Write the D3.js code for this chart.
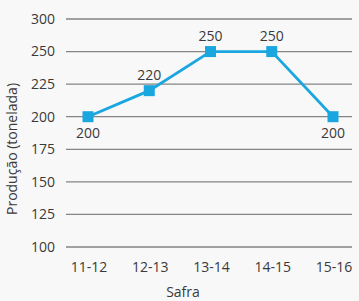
<!DOCTYPE html>
<html>
<head>
<meta charset="utf-8">
<script src="https://cdn.jsdelivr.net/npm/d3@7"></script>
<style>
  html, body { margin: 0; padding: 0; background: #f8f8f8; }
  svg { display: block; font-family: "Open Sans", sans-serif; }
</style>
</head>
<body>
<svg id="chart" width="359" height="301"></svg>
<script>
const categories = ['11-12', '12-13', '13-14', '14-15', '15-16'];
const values = [200, 220, 250, 250, 200];
// the source axis skips 275: its top line is labelled 300
const tickValues = [100, 125, 150, 175, 200, 225, 250, 275];
const tickLabels = ['100', '125', '150', '175', '200', '225', '250', '300'];
const labelBelow = [true, false, false, false, true];

const svg = d3.select('#chart');
const width = 359, height = 301;

const x = d3.scalePoint().domain(categories).range([88, 333]);
const y = d3.scaleLinear().domain([100, 275]).range([247, 19]);

const gridLeft = 66, gridRight = 352;
const textColor = '#3a3a3a';

// clip for right edge (source is cut off there)
svg.append('defs').append('clipPath').attr('id', 'clip')
  .append('rect').attr('x', 0).attr('y', 0).attr('width', gridRight).attr('height', height);

const g = svg.append('g').attr('clip-path', 'url(#clip)');

// gridlines
g.selectAll('.grid')
  .data(tickValues)
  .enter()
  .append('line')
  .attr('x1', gridLeft).attr('x2', gridRight)
  .attr('y1', d => y(d)).attr('y2', d => y(d))
  .attr('stroke', '#858585')
  .attr('stroke-width', 1.3);

// y tick labels
g.selectAll('.ytick')
  .data(tickValues)
  .enter()
  .append('text')
  .attr('x', 55)
  .attr('y', d => y(d))
  .attr('dy', '0.35em')
  .attr('text-anchor', 'end')
  .attr('font-size', 14)
  .attr('fill', textColor)
  .text((d, i) => tickLabels[i]);

// x tick labels
g.selectAll('.xtick')
  .data(categories)
  .enter()
  .append('text')
  .attr('x', d => x(d) + 1)
  .attr('y', 272)
  .attr('text-anchor', 'middle')
  .attr('font-size', 14)
  .attr('fill', textColor)
  .text(d => d);

// line
const line = d3.line()
  .x((d, i) => x(categories[i]))
  .y(d => y(d));

g.append('path')
  .datum(values)
  .attr('d', line)
  .attr('fill', 'none')
  .attr('stroke', '#1aa7e0')
  .attr('stroke-width', 2.8);

// markers
const ms = 11;
g.selectAll('.marker')
  .data(values)
  .enter()
  .append('rect')
  .attr('x', (d, i) => x(categories[i]) - ms / 2)
  .attr('y', d => y(d) - ms / 2)
  .attr('width', ms).attr('height', ms)
  .attr('fill', '#1aa7e0');

// value labels
g.selectAll('.vlabel')
  .data(values)
  .enter()
  .append('text')
  .attr('x', (d, i) => x(categories[i]))
  .attr('y', (d, i) => labelBelow[i] ? y(d) + 21 : y(d) - 11)
  .attr('text-anchor', 'middle')
  .attr('font-size', 14)
  .attr('fill', textColor)
  .text(d => d);

// axis titles
svg.append('text')
  .attr('x', 183)
  .attr('y', 297)
  .attr('text-anchor', 'middle')
  .attr('font-size', 14)
  .attr('fill', textColor)
  .text('Safra');

svg.append('text')
  .attr('transform', 'translate(17,149) rotate(-90)')
  .attr('text-anchor', 'middle')
  .attr('font-size', 14)
  .attr('fill', textColor)
  .text('Produção (tonelada)');
</script>
</body>
</html>
